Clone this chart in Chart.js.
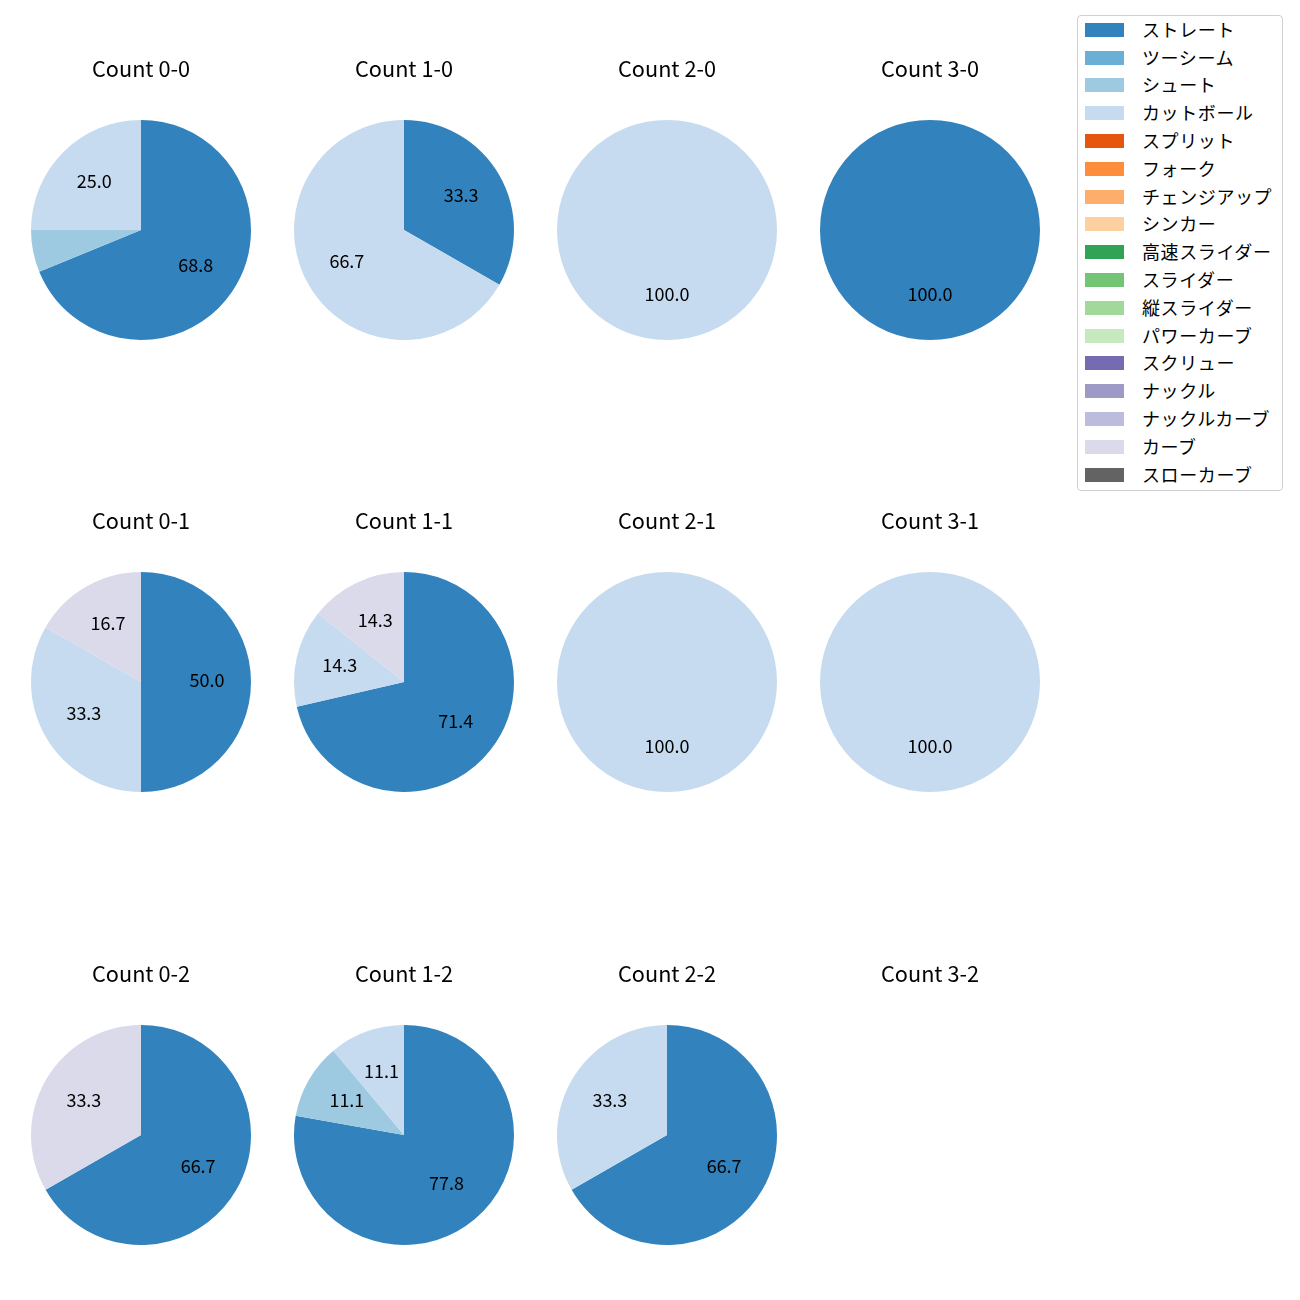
<!DOCTYPE html>
<html>
<head>
<meta charset="utf-8">
<script src="https://cdn.jsdelivr.net/npm/chart.js@4"></script>
<style>
  body { margin: 0; background: #fff; }
  #page { position: relative; width: 1300px; height: 1300px; font-family: "Noto Sans CJK JP", "Noto Sans", sans-serif; }
  .cell { position: absolute; width: 240px; height: 291px; }
  #legend { position: absolute; left: 1077px; top: 15px; width: 204px; height: 474px; border: 1px solid #d0d0d0; border-radius: 4px; box-sizing: content-box; }
  .item { position: absolute; left: 7px; height: 24px; font-size: 18px; color: #000; white-space: nowrap; }
  .swatch { position: absolute; left: 0; top: 6px; width: 39px; height: 14px; }
  .name { position: absolute; left: 57px; top: 0; line-height: 24px; letter-spacing: 0.6px; }
</style>
</head>
<body>
<div id="page">
  <div id="legend"></div>
</div>
<script>
// pitch types and tab20c colours, in legend order
const pitchTypes = ['ストレート', 'ツーシーム', 'シュート', 'カットボール', 'スプリット', 'フォーク', 'チェンジアップ', 'シンカー',
    '高速スライダー', 'スライダー', '縦スライダー', 'パワーカーブ', 'スクリュー', 'ナックル', 'ナックルカーブ', 'カーブ', 'スローカーブ'];
const pitchColors = ['#3182bd', '#6baed6', '#9ecae1', '#c6dbef', '#e6550d', '#fd8d3c', '#fdae6b', '#fdd0a2',
    '#31a354', '#74c476', '#a1d99b', '#c7e9c0', '#756bb1', '#9e9ac8', '#bcbddc', '#dadaeb', '#636363'];

// subplot order: rows = strikes 0..2, columns = balls 0..3
const countLabels = ['Count 0-0', 'Count 1-0', 'Count 2-0', 'Count 3-0',
                     'Count 0-1', 'Count 1-1', 'Count 2-1', 'Count 3-1',
                     'Count 0-2', 'Count 1-2', 'Count 2-2', 'Count 3-2'];

// share (%) per pitch type for each count
const straight = [68.8, 33.3, 0, 100.0, 50.0, 71.4, 0, 0, 66.7, 77.8, 66.7, 0];
const shoot    = [6.2, 0, 0, 0, 0, 0, 0, 0, 0, 11.1, 0, 0];
const cutter   = [25.0, 66.7, 100.0, 0, 33.3, 14.3, 100.0, 100.0, 0, 11.1, 33.3, 0];
const curve    = [0, 0, 0, 0, 16.7, 14.3, 0, 0, 33.3, 0, 0, 0];

const seriesByType = {
    'ストレート': straight,
    'シュート': shoot,
    'カットボール': cutter,
    'カーブ': curve
};

const colX = [141, 404, 667, 930];
const rowY = [230, 682, 1135];
const FONT = '"Noto Sans CJK JP", "Noto Sans", sans-serif';

// percentage labels at 0.6 of the radius, small slices left unlabeled
const pctLabels = {
    id: 'pctLabels',
    afterDatasetsDraw(chart) {
        const ctx = chart.ctx;
        const meta = chart.getDatasetMeta(0);
        const data = chart.data.datasets[0].data;
        ctx.save();
        ctx.font = '18px ' + FONT;
        ctx.fillStyle = '#000';
        ctx.textAlign = 'center';
        ctx.textBaseline = 'middle';
        meta.data.forEach((arc, i) => {
            const v = data[i];
            if (!v || v < 10) return;
            const mid = (arc.startAngle + arc.endAngle) / 2;
            const r = arc.outerRadius * 0.6;
            ctx.fillText(v.toFixed(1), arc.x + Math.cos(mid) * r, arc.y + Math.sin(mid) * r - 2);
        });
        ctx.restore();
    }
};

const page = document.getElementById('page');

countLabels.forEach((title, k) => {
    const cx = colX[k % 4];
    const cy = rowY[Math.floor(k / 4)];
    const div = document.createElement('div');
    div.className = 'cell';
    div.style.left = (cx - 120) + 'px';
    div.style.top = (cy - 181) + 'px';
    const canvas = document.createElement('canvas');
    div.appendChild(canvas);
    page.appendChild(div);

    const values = pitchTypes.map(p => (seriesByType[p] ? seriesByType[p][k] : 0));
    const hasData = values.some(v => v > 0);

    new Chart(canvas, {
        type: 'pie',
        data: {
            labels: pitchTypes,
            datasets: [{
                data: hasData ? values : [],
                backgroundColor: pitchColors,
                borderWidth: 0,
                hoverOffset: 0
            }]
        },
        options: {
            responsive: true,
            maintainAspectRatio: false,
            animation: false,
            layout: { padding: 0 },
            plugins: {
                legend: { display: false },
                tooltip: { enabled: false },
                title: {
                    display: true,
                    text: title,
                    color: '#000',
                    font: { family: FONT, size: 21.7, weight: 'normal', lineHeight: 1.2 },
                    padding: { top: 7, bottom: 37.96 }
                }
            }
        },
        plugins: [pctLabels]
    });
});

// legend box
const legend = document.getElementById('legend');
pitchTypes.forEach((name, i) => {
    const item = document.createElement('div');
    item.className = 'item';
    item.style.top = (0.8 + i * 27.8) + 'px';
    item.innerHTML = '<span class="swatch" style="background:' + pitchColors[i] + '"></span><span class="name">' + name + '</span>';
    legend.appendChild(item);
});
</script>
</body>
</html>
